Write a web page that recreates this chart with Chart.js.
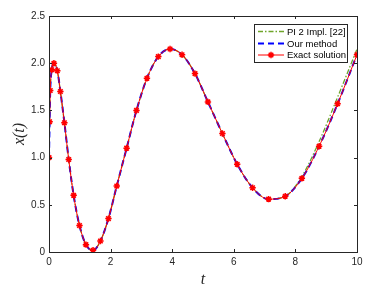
<!DOCTYPE html>
<html><head><meta charset="utf-8">
<script src="https://cdn.jsdelivr.net/npm/chart.js@4.4.0/dist/chart.umd.min.js"></script>
<style>html,body{margin:0;padding:0;background:#fff}#wrap{width:370px;height:291px}</style>
</head><body><div id="wrap"><canvas id="c" width="370" height="291"></canvas></div>
<script>
const tValues   = [0, 0.02, 0.04, 0.09, 0.16, 0.27, 0.37, 0.5, 0.64, 0.8, 0.99, 1.2, 1.43, 1.67, 1.93, 2.2, 2.52, 2.84, 3.18, 3.55, 3.93, 4.32, 4.74, 5.16, 5.63, 6.11, 6.61, 7.13, 7.67, 8.21, 8.77, 9.37, 10.0];
const exactValues = [1.0, 1.38, 1.71, 1.93, 2.0, 1.92, 1.70, 1.37, 0.98, 0.60, 0.28, 0.078, 0.018, 0.117, 0.354, 0.70, 1.10, 1.50, 1.84, 2.07, 2.15, 2.09, 1.89, 1.59, 1.255, 0.93, 0.68, 0.56, 0.59, 0.78, 1.12, 1.57, 2.09];
const oursValues  = [1.0, 1.38, 1.71, 1.93, 2.0, 1.92, 1.70, 1.37, 0.98, 0.60, 0.28, 0.078, 0.018, 0.117, 0.354, 0.70, 1.10, 1.50, 1.84, 2.07, 2.15, 2.09, 1.89, 1.59, 1.255, 0.93, 0.68, 0.56, 0.59, 0.78, 1.12, 1.57, 2.09];
const piValues    = [1.0, 1.38, 1.71, 1.93, 2.0, 1.92, 1.70, 1.37, 0.98, 0.60, 0.28, 0.078, 0.018, 0.117, 0.354, 0.70, 1.10, 1.50, 1.84, 2.07, 2.15, 2.09, 1.89, 1.59, 1.255, 0.93, 0.68, 0.56, 0.59, 0.80, 1.17, 1.64, 2.15];
const xTicks = [0, 2, 4, 6, 8, 10];
const yTicks = [0, 0.5, 1, 1.5, 2, 2.5];
const seriesNames = ['PI 2 Impl. [22]', 'Our method', 'Exact solution'];

const pts = (ys) => tValues.map((t, i) => ({x: t, y: ys[i]}));
const GREEN = '#6FA52A', BLUE = '#0000FF', RED = '#FF0000';
const axisColor = '#262626';

const boxPlugin = {
  id: 'matlabBox',
  afterDraw(chart) {
    const {ctx, chartArea: a, scales} = chart;
    ctx.save();
    ctx.strokeStyle = axisColor; ctx.lineWidth = 1;
    ctx.strokeRect(Math.round(a.left)+0.5, Math.round(a.top)+0.5, Math.round(a.right-a.left), Math.round(a.bottom-a.top));
    const tl = 3;
    ctx.beginPath();
    xTicks.forEach(v => {
      const px = Math.round(scales.x.getPixelForValue(v)) + 0.5;
      ctx.moveTo(px, a.bottom); ctx.lineTo(px, a.bottom - tl);
      ctx.moveTo(px, a.top); ctx.lineTo(px, a.top + tl);
    });
    yTicks.forEach(v => {
      const py = Math.round(scales.y.getPixelForValue(v)) + 0.5;
      ctx.moveTo(a.left, py); ctx.lineTo(a.left + tl, py);
      ctx.moveTo(a.right, py); ctx.lineTo(a.right - tl, py);
    });
    ctx.stroke();
    // legend
    const lx = 254.5, ly = 24.5, lw = 93, lh = 38;
    ctx.fillStyle = '#fff'; ctx.fillRect(lx, ly, lw, lh);
    ctx.strokeStyle = axisColor; ctx.strokeRect(lx, ly, lw, lh);
    const rows = [31.5, 43.5, 55];
    const ds = chart.data.datasets;
    ctx.font = '9.5px "Liberation Sans", Arial, sans-serif';
    ctx.textBaseline = 'middle';
    ds.forEach((d, i) => {
      const y = rows[i];
      ctx.save();
      ctx.strokeStyle = d.borderColor; ctx.lineWidth = d.borderWidth;
      ctx.setLineDash(d.borderDash || []);
      ctx.beginPath(); ctx.moveTo(258, y); ctx.lineTo(284, y); ctx.stroke();
      ctx.restore();
      if (d.pointRadius > 0) {
        ctx.save();
        ctx.strokeStyle = d.pointBorderColor; ctx.fillStyle = d.pointBackgroundColor; ctx.lineWidth = d.pointBorderWidth;
        Chart.helpers.drawPoint(ctx, {pointStyle: 'star', radius: d.pointRadius, borderWidth: d.pointBorderWidth}, 271, y);
        ctx.restore();
      }
      ctx.fillStyle = '#000';
      ctx.fillText(d.label, 287, y + 0.5);
    });
    ctx.restore();
  }
};

new Chart(document.getElementById('c'), {
  type: 'scatter',
  data: {
    datasets: [
      {label: seriesNames[0], data: pts(piValues), showLine: true, borderColor: GREEN, borderWidth: 1.3, borderDash: [5, 2, 1.5, 2], pointRadius: 0, cubicInterpolationMode: 'monotone', order: 2},
      {label: seriesNames[1], data: pts(oursValues), showLine: true, borderColor: BLUE, borderWidth: 2, borderDash: [6, 4], pointRadius: 0, cubicInterpolationMode: 'monotone', order: 1},
      {label: seriesNames[2], data: pts(exactValues), showLine: true, borderColor: RED, borderWidth: 1, pointRadius: 3.2, pointStyle: 'star', pointBorderColor: RED, pointBackgroundColor: RED, pointBorderWidth: 1.5, cubicInterpolationMode: 'monotone', order: 0}
    ]
  },
  options: {
    responsive: false, animation: false, devicePixelRatio: 1,
    layout: {padding: {top: 16, right: 13, bottom: 0, left: 6}},
    plugins: {legend: {display: false}, tooltip: {enabled: false}},
    scales: {
      x: {
        type: 'linear', min: 0, max: 10,
        afterBuildTicks: s => { s.ticks = xTicks.map(v => ({value: v})); },
        ticks: {color: axisColor, font: {size: 10, family: '"Liberation Sans", Arial, sans-serif'}, padding: 4, maxRotation: 0},
        grid: {display: false, drawTicks: false},
        border: {display: false},
        title: {display: true, text: 't', color: axisColor, font: {size: 16, family: '"Liberation Serif", "DejaVu Serif", serif', style: 'italic'}, padding: {top: 0, bottom: 2}},
        afterFit: s => { s.height = 39; }
      },
      y: {
        type: 'linear', min: 0, max: 2.5,
        afterBuildTicks: s => { s.ticks = yTicks.map(v => ({value: v})); },
        ticks: {color: axisColor, font: {size: 10, family: '"Liberation Sans", Arial, sans-serif'}, padding: 4},
        grid: {display: false, drawTicks: false},
        border: {display: false},
        title: {display: true, text: 'x(t)', color: axisColor, font: {size: 16, family: '"Liberation Serif", "DejaVu Serif", serif', style: 'italic'}, padding: {top: 4, bottom: 0}},
        afterFit: s => { s.width = 43; }
      }
    }
  },
  plugins: [boxPlugin]
});
</script>
</body></html>
